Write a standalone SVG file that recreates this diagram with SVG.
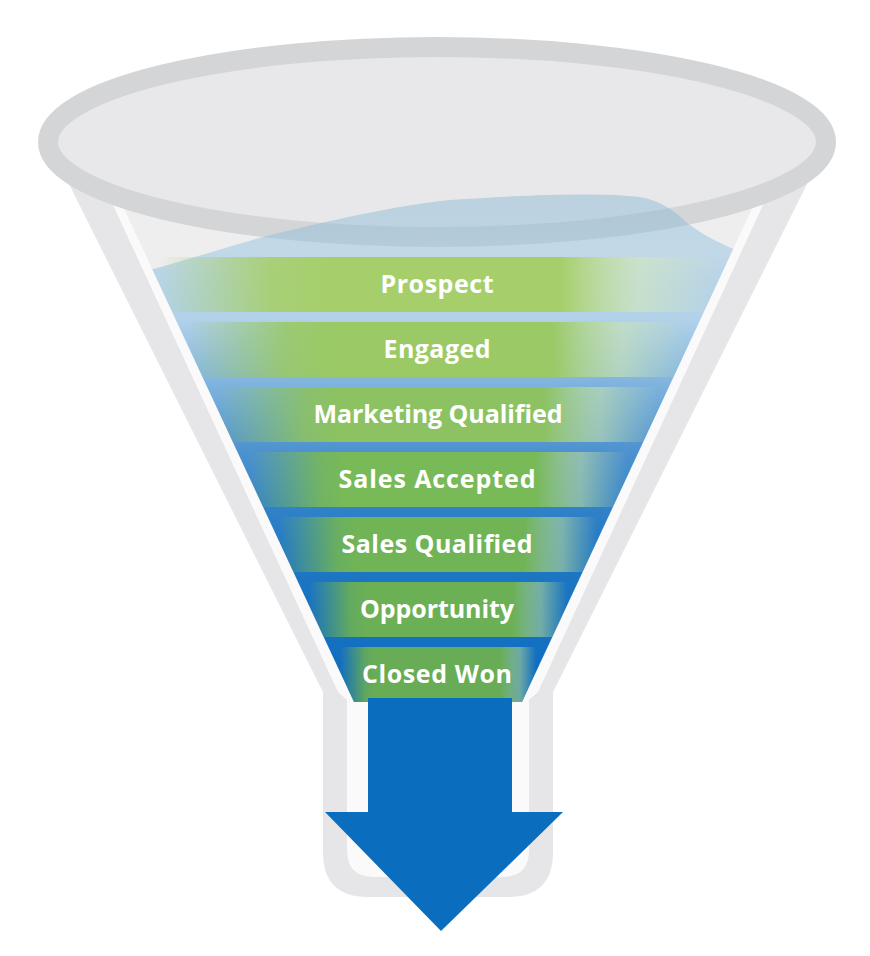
<svg xmlns="http://www.w3.org/2000/svg" width="870" height="956" viewBox="0 0 870 956">
<style>
.lbl{font-family:"Open Sans","Liberation Sans",sans-serif;font-weight:700;font-size:25px;fill:#ffffff;text-anchor:middle}
</style>
<defs>
<clipPath id="cone"><path d="M92,140 L354,702 L522,702 L784,140 Z"/></clipPath>
<linearGradient id="liq" gradientUnits="userSpaceOnUse" x1="0" y1="195" x2="0" y2="702">
<stop offset="0" stop-color="#78afcd" stop-opacity="0.4"/>
<stop offset="0.11" stop-color="#96c3e1" stop-opacity="0.5"/>
<stop offset="0.24" stop-color="#b3d2ea"/>
<stop offset="0.37" stop-color="#80b4de"/>
<stop offset="0.5" stop-color="#4f93d0"/>
<stop offset="0.63" stop-color="#2e80c7"/>
<stop offset="0.76" stop-color="#1c75c2"/>
<stop offset="0.88" stop-color="#1470c0"/>
<stop offset="1" stop-color="#0d6cbf"/>
</linearGradient>
<linearGradient id="g1" x1="0" y1="0" x2="1" y2="0"><stop offset="0" stop-color="#a6cf6c" stop-opacity="0"/><stop offset="0.2" stop-color="#a6cf6c" stop-opacity="0.9"/><stop offset="0.3" stop-color="#a6cf6c"/><stop offset="0.72" stop-color="#a6cf6c"/><stop offset="0.86" stop-color="#d2e8bb" stop-opacity="0.6"/><stop offset="1" stop-color="#d2e8bb" stop-opacity="0"/></linearGradient>
<linearGradient id="g2" x1="0" y1="0" x2="1" y2="0"><stop offset="0" stop-color="#9ac966" stop-opacity="0"/><stop offset="0.2" stop-color="#9ac966" stop-opacity="0.9"/><stop offset="0.28" stop-color="#9ac966"/><stop offset="0.73" stop-color="#9ac966"/><stop offset="0.87" stop-color="#cce5b4" stop-opacity="0.6"/><stop offset="1" stop-color="#cce5b4" stop-opacity="0"/></linearGradient>
<linearGradient id="g3" x1="0" y1="0" x2="1" y2="0"><stop offset="0" stop-color="#8cc262" stop-opacity="0"/><stop offset="0.2" stop-color="#8cc262" stop-opacity="0.9"/><stop offset="0.27" stop-color="#8cc262"/><stop offset="0.74" stop-color="#8cc262"/><stop offset="0.87" stop-color="#c4e0ac" stop-opacity="0.6"/><stop offset="1" stop-color="#c4e0ac" stop-opacity="0"/></linearGradient>
<linearGradient id="g4" x1="0" y1="0" x2="1" y2="0"><stop offset="0" stop-color="#78b958" stop-opacity="0"/><stop offset="0.19" stop-color="#78b958" stop-opacity="0.9"/><stop offset="0.25" stop-color="#78b958"/><stop offset="0.76" stop-color="#78b958"/><stop offset="0.88" stop-color="#bcdba2" stop-opacity="0.6"/><stop offset="1" stop-color="#bcdba2" stop-opacity="0"/></linearGradient>
<linearGradient id="g5" x1="0" y1="0" x2="1" y2="0"><stop offset="0" stop-color="#70b456" stop-opacity="0"/><stop offset="0.18" stop-color="#70b456" stop-opacity="0.9"/><stop offset="0.24" stop-color="#70b456"/><stop offset="0.77" stop-color="#70b456"/><stop offset="0.89" stop-color="#b4d69c" stop-opacity="0.6"/><stop offset="1" stop-color="#b4d69c" stop-opacity="0"/></linearGradient>
<linearGradient id="g6" x1="0" y1="0" x2="1" y2="0"><stop offset="0" stop-color="#6bb055" stop-opacity="0"/><stop offset="0.16" stop-color="#6bb055" stop-opacity="0.9"/><stop offset="0.22" stop-color="#6bb055"/><stop offset="0.79" stop-color="#6bb055"/><stop offset="0.9" stop-color="#aed396" stop-opacity="0.6"/><stop offset="1" stop-color="#aed396" stop-opacity="0"/></linearGradient>
<linearGradient id="g7" x1="0" y1="0" x2="1" y2="0"><stop offset="0" stop-color="#68ad55" stop-opacity="0"/><stop offset="0.13" stop-color="#68ad55" stop-opacity="0.9"/><stop offset="0.18" stop-color="#68ad55"/><stop offset="0.82" stop-color="#68ad55"/><stop offset="0.92" stop-color="#a8cf92" stop-opacity="0.6"/><stop offset="1" stop-color="#a8cf92" stop-opacity="0"/></linearGradient>
</defs>

<g id="funnel">
<path d="M47,140 L323,692 L323,852 Q323,897 368,897 L508,897 Q553,897 553,852 L553,692 L829,140 Z" fill="#e6e6e8"/>
<path d="M83,140 L338,692 L347,700 L347,850 Q347,877 374,877 L502,877 Q529,877 529,850 L529,700 L538,692 L793,140 Z" fill="#fafafa"/>
<path d="M92,140 L354,702 L522,702 L784,140 Z" fill="#eeeeef"/>
<ellipse cx="437" cy="142" rx="389" ry="95" fill="#e8e8ea" stroke="#d4d5d7" stroke-width="20"/>
</g>

<g id="liquid" clip-path="url(#cone)">
<path d="M90,285 L150,270 C200,256 230,246 263,237 C330,220 400,205 450,200 C520,195 600,192 640,197 C662,201 676,212 687,223 C708,238 728,250 790,268 L790,720 L90,720 Z" fill="url(#liq)"/>
</g>

<g id="stage-prospect">
<rect x="158" y="257" width="560" height="55" fill="url(#g1)" clip-path="url(#cone)"/>
<text class="lbl" x="437" y="292.5" textLength="113">Prospect</text>
</g>
<g id="stage-engaged">
<rect x="188" y="322" width="500" height="55" fill="url(#g2)" clip-path="url(#cone)"/>
<text class="lbl" x="437" y="357.5" textLength="107">Engaged</text>
</g>
<g id="stage-marketing-qualified">
<rect x="218" y="387" width="440" height="55" fill="url(#g3)" clip-path="url(#cone)"/>
<text class="lbl" x="438" y="422.5" textLength="249">Marketing Qualified</text>
</g>
<g id="stage-sales-accepted">
<rect x="249" y="452" width="378" height="55" fill="url(#g4)" clip-path="url(#cone)"/>
<text class="lbl" x="437" y="487.5" textLength="197">Sales Accepted</text>
</g>
<g id="stage-sales-qualified">
<rect x="279" y="517" width="318" height="55" fill="url(#g5)" clip-path="url(#cone)"/>
<text class="lbl" x="437" y="552.5" textLength="191">Sales Qualified</text>
</g>
<g id="stage-opportunity">
<rect x="309" y="582" width="258" height="55" fill="url(#g6)" clip-path="url(#cone)"/>
<text class="lbl" x="437" y="617.5" textLength="154">Opportunity</text>
</g>
<g id="stage-closed-won">
<rect x="340" y="647" width="196" height="55" fill="url(#g7)" clip-path="url(#cone)"/>
<text class="lbl" x="437" y="682.5" textLength="150">Closed Won</text>
</g>

<g id="connectors">
<rect x="368" y="698" width="144" height="115" fill="#0b6dbd"/>
<polygon points="325,812 563,812 441,931" fill="#0b6dbd"/>
</g>
</svg>
